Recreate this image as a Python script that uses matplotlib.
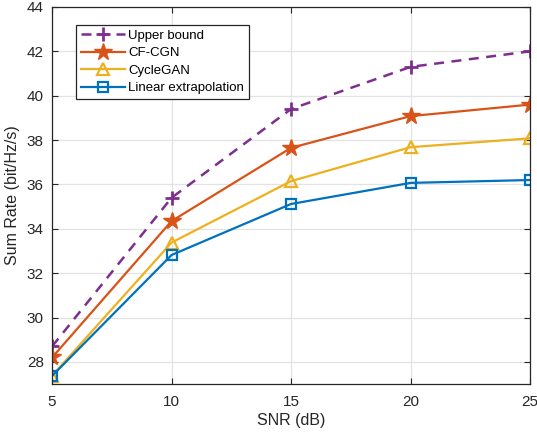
import numpy as np
import matplotlib
matplotlib.use("Agg")
from matplotlib import pyplot as plt

# data
snr = [5, 10, 15, 20, 25]
upper_bound = [28.7, 35.4, 39.4, 41.3, 42.0]
cf_cgn = [28.2, 34.35, 37.65, 39.08, 39.6]
cyclegan = [27.38, 33.38, 36.15, 37.68, 38.08]
linear_extra = [27.37, 32.82, 35.12, 36.07, 36.2]

plt.rcParams['font.family'] = ['Liberation Sans', 'DejaVu Sans']

fig = plt.figure(figsize=(5.37, 4.36), dpi=100)
ax = fig.add_axes([0.097, 0.119, 0.890, 0.865])

ax.plot(snr, upper_bound, '--', color='#7E2F8E', marker='+', markersize=10,
        markeredgewidth=2, linewidth=1.8, dashes=(4, 3), label='Upper bound')
ax.plot(snr, cf_cgn, '-', color='#D95319', marker='*', markersize=13,
        linewidth=1.6, label='CF-CGN')
ax.plot(snr, cyclegan, '-', color='#EDB120', marker='^', markersize=9,
        markerfacecolor='none', markeredgewidth=1.6, linewidth=1.6, label='CycleGAN')
ax.plot(snr, linear_extra, '-', color='#0072BD', marker='s', markersize=6.5,
        markerfacecolor='none', markeredgewidth=1.6, linewidth=1.6,
        label='Linear extrapolation')

ax.set_xlim(5, 25)
ax.set_ylim(27, 44)
ax.set_xticks([5, 10, 15, 20, 25])
ax.set_yticks(np.arange(28, 45, 2))
ax.grid(True, color='#e3e3e3', linewidth=0.9)
ax.set_axisbelow(True)
ax.tick_params(direction='in', labelsize=11, colors='#262626', length=4)
ax.tick_params(axis='x', pad=8)
ax.tick_params(axis='y', pad=6)
for s in ax.spines.values():
    s.set_color('#262626')
    s.set_linewidth(0.9)
ax.tick_params(top=True, right=True)

ax.set_xlabel('SNR (dB)', fontsize=11.5, color='#262626', labelpad=3)
ax.set_ylabel('Sum Rate (bit/Hz/s)', fontsize=11.5, color='#262626', labelpad=5)

leg = ax.legend(loc='upper left', bbox_to_anchor=(0.05, 0.952), borderaxespad=0,
                fontsize=9.5, fancybox=False, framealpha=1, edgecolor='#262626',
                handlelength=3.4, handletextpad=0.2, labelspacing=0.4,
                borderpad=0.35)
leg.get_frame().set_linewidth(0.9)

fig.savefig('out.png', dpi=100)
